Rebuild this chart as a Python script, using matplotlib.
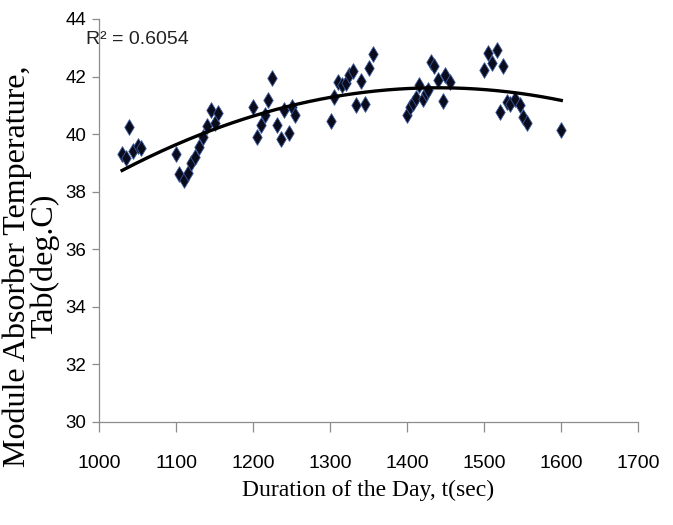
import numpy as np
import matplotlib
matplotlib.use("Agg")
import matplotlib.pyplot as plt

# Data
duration = [1030, 1035, 1039, 1044, 1050, 1054,
            1100, 1104, 1110, 1115, 1120, 1125, 1130, 1135, 1140, 1145, 1151, 1155,
            1200, 1205, 1210, 1215, 1220, 1224, 1231, 1236, 1240, 1246, 1250, 1254,
            1301, 1305, 1310, 1315, 1320, 1325, 1330, 1334, 1340, 1345, 1351, 1355,
            1400, 1404, 1407, 1411, 1416, 1420, 1424, 1427, 1431, 1435, 1440, 1446, 1449, 1455,
            1500, 1505, 1510, 1516, 1525, 1520, 1530, 1534, 1540, 1546, 1550, 1555,
            1600]
temperature = [39.31, 39.16, 40.26, 39.42, 39.58, 39.50,
               39.30, 38.61, 38.40, 38.63, 38.98, 39.19, 39.56, 39.91, 40.29, 40.84, 40.39, 40.72,
               40.95, 39.89, 40.31, 40.66, 41.18, 41.94, 40.31, 39.82, 40.84, 40.03, 40.93, 40.66,
               40.46, 41.28, 41.82, 41.71, 41.76, 42.05, 42.19, 41.01, 41.84, 41.04, 42.31, 42.78,
               40.66, 40.95, 41.09, 41.24, 41.71, 41.22, 41.42, 41.53, 42.52, 42.37, 41.88, 41.16, 42.05, 41.82,
               42.23, 42.83, 42.46, 42.92, 42.37, 40.76, 41.12, 41.04, 41.21, 41.01, 40.58, 40.39,
               40.14]
x_ticks = [1000, 1100, 1200, 1300, 1400, 1500, 1600, 1700]
y_ticks = [30, 32, 34, 36, 38, 40, 42, 44]
r2_label = "R\u00b2 = 0.6054"
x_label = "Duration of the Day, t(sec)"
y_label = "Module Absorber Temperature,\nTab(deg.C)"

narrow = ['Liberation Sans Narrow', 'Liberation Sans', 'DejaVu Sans']
serif = ['Liberation Serif', 'DejaVu Serif']

fig = plt.figure(figsize=(6.73, 5.25), dpi=100)
ax = fig.add_axes([99 / 673, 1 - 421.7 / 525, (638.3 - 99) / 673, (421.7 - 19) / 525])

x = np.array(duration, dtype=float)
y = np.array(temperature, dtype=float)

ax.scatter(x, y, marker='d', s=64, facecolor='#0b0b1e', edgecolor='#3a5a9a',
           linewidths=0.6, zorder=3)

coef = np.polyfit(x, y, 2)
xf = np.linspace(x.min(), x.max(), 200)
ax.plot(xf, np.polyval(coef, xf), color='black', lw=2.4, zorder=4)

ax.set_xlim(1000, 1700)
ax.set_ylim(30, 44)
ax.set_xticks(x_ticks)
ax.set_yticks(y_ticks)
ax.set_xticklabels([str(v) for v in x_ticks], fontfamily=narrow, fontsize=14)
ax.set_yticklabels([str(v) for v in y_ticks], fontfamily=narrow, fontsize=13.5)
ax.tick_params(axis='both', colors='#8c8c8c', width=0.9, labelcolor='black')
ax.tick_params(axis='x', length=7, pad=17)
ax.tick_params(axis='y', length=5, pad=4)

for side in ['top', 'right']:
    ax.spines[side].set_visible(False)
for side in ['left', 'bottom']:
    ax.spines[side].set_color('#8c8c8c')
    ax.spines[side].set_linewidth(0.9)

fig.text(86 / 673, 1 - 40 / 525, r2_label, fontfamily=narrow, fontsize=14,
         ha='left', va='center', color='#222222')

fig.text(368 / 673, 1 - 490 / 525, x_label, fontfamily=serif, fontsize=17,
         ha='center', va='center')
fig.text(31 / 673, 1 - 266 / 525, y_label, fontfamily=serif, fontsize=23,
         ha='center', va='center', rotation=90, multialignment='center',
         linespacing=0.9)

fig.savefig('out.png', dpi=100)
